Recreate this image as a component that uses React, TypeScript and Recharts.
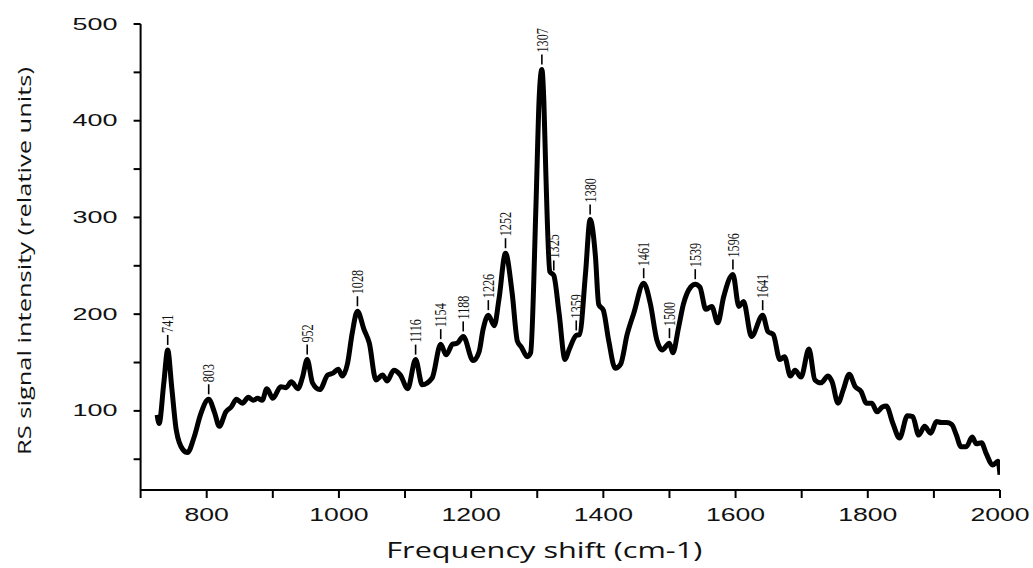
import React from "react";
import { ComposedChart, Line, XAxis, YAxis, Label } from "recharts";

const wavenumber = [
  725, 728, 735, 741, 747, 754, 764, 771, 781, 791, 803, 812, 819, 829, 837, 845, 854, 863, 870, 877,
  884, 891, 900, 912, 920, 928, 938, 945, 952, 960, 971, 983, 991, 999, 1005, 1013, 1020, 1028, 1038, 1046,
  1056, 1066, 1073, 1083, 1093, 1104, 1116, 1126, 1141, 1154, 1162, 1172, 1179, 1188, 1203, 1212, 1218, 1226, 1235, 1242,
  1252, 1262, 1270, 1276, 1285, 1290, 1298, 1303, 1307, 1310, 1313, 1319, 1325, 1333, 1342, 1348, 1359, 1364, 1373, 1380,
  1388, 1393, 1400, 1408, 1418, 1426, 1436, 1446, 1461, 1471, 1481, 1489, 1500, 1505, 1514, 1521, 1532, 1539, 1546, 1555,
  1564, 1573, 1582, 1596, 1605, 1612, 1624, 1641, 1649, 1657, 1667, 1674, 1683, 1690, 1699, 1711, 1720, 1729, 1740, 1746,
  1755, 1763, 1772, 1781, 1790, 1798, 1806, 1814, 1822, 1828, 1838, 1848, 1860, 1868, 1877, 1886, 1895, 1904, 1911, 1919,
  1927, 1934, 1941, 1949, 1958, 1964, 1972, 1979, 1989, 1997, 2000,
];

const intensity = [
  96, 87, 128, 163, 125, 80, 60, 57, 73, 97, 112, 98, 84, 99, 104, 112, 108, 114, 111, 113,
  111, 123, 113, 125, 124, 130, 123, 135, 153, 129, 122, 137, 139, 143, 136, 149, 180, 203, 184, 170,
  132, 137, 131, 142, 137, 123, 153, 127, 134, 169, 158, 169, 170, 177, 152, 161, 184, 199, 188, 215,
  263, 222, 172, 166, 156, 160, 311, 425, 453, 420, 346, 244, 240, 201, 153, 163, 178, 179, 242, 298,
  260, 210, 204, 173, 144, 148, 179, 201, 232, 211, 173, 163, 170, 160, 187, 210, 228, 231, 228, 205,
  208, 191, 218, 241, 208, 213, 177, 199, 182, 179, 153, 156, 136, 142, 135, 164, 132, 129, 136, 130,
  108, 122, 138, 125, 120, 108, 108, 99, 104, 105, 87, 72, 95, 94, 75, 84, 77, 89, 88, 88,
  86, 75, 63, 63, 73, 66, 67, 56, 44, 48, 34,
];

const peakLabels = [741, 803, 952, 1028, 1116, 1154, 1188, 1226, 1252, 1307, 1325, 1359, 1380, 1461, 1500, 1539, 1596, 1641];

const xTicks = [700, 800, 900, 1000, 1100, 1200, 1300, 1400, 1500, 1600, 1700, 1800, 1900, 2000];
const xLabelTicks = [800, 1000, 1200, 1400, 1600, 1800, 2000];
const yTicks = [50, 100, 150, 200, 250, 300, 350, 400, 450, 500];
const yLabelTicks = [100, 200, 300, 400, 500];

const xTitle = "Frequency shift (cm-1)";
const yTitle = "RS signal intensity (relative units)";

const data = wavenumber.map((w, i) => ({ w, v: intensity[i] }));

const XTick = (props: any) => {
  const { x, y, payload } = props;
  if (!xLabelTicks.includes(payload.value)) return null;
  const s = String(payload.value);
  return (
    <text
      x={x}
      y={y + 21}
      textAnchor="middle"
      fontFamily="'Liberation Sans', Arial, sans-serif"
      fontSize={19}
      fontWeight={400}
      fill="#111"
      textLength={s.length * 14.8}
      lengthAdjust="spacingAndGlyphs"
    >
      {s}
    </text>
  );
};

const YTick = (props: any) => {
  const { x, y, payload } = props;
  if (!yLabelTicks.includes(payload.value)) return null;
  const s = String(payload.value);
  return (
    <text
      x={x}
      y={y + 5.5}
      textAnchor="end"
      fontFamily="'Liberation Sans', Arial, sans-serif"
      fontSize={17}
      fontWeight={400}
      fill="#111"
      textLength={s.length * 15}
      lengthAdjust="spacingAndGlyphs"
    >
      {s}
    </text>
  );
};

const PeakLabel = (props: any) => {
  const { x, y, index } = props;
  const w = wavenumber[index];
  if (!peakLabels.includes(w)) return null;
  return (
    <g>
      <line x1={x} y1={y - 5} x2={x} y2={y - 15} stroke="#000" strokeWidth={1.6} />
      <g transform={`translate(${x}, ${y - 17}) rotate(-90)`}>
        <text
          x={0}
          y={0}
          transform="scale(0.76,1)"
          dominantBaseline="central"
          fontFamily="'Liberation Serif', 'Times New Roman', serif"
          fontSize={16}
          fontWeight={400}
          fill="#111"
        >
          {w}
        </text>
      </g>
    </g>
  );
};

export default function App() {
  return (
    <div style={{ position: "absolute", left: 0, top: 0, width: 1033, height: 568, background: "#fff" }}>
      <ComposedChart
        width={1033}
        height={568}
        data={data}
        margin={{ top: 24, right: 33, bottom: 0, left: 0 }}
      >
        <XAxis
          dataKey="w"
          type="number"
          domain={[700, 2000]}
          ticks={xTicks}
          interval={0}
          allowDataOverflow
          height={78}
          tickSize={8}
          tickMargin={2}
          axisLine={{ stroke: "#000", strokeWidth: 2 }}
          tickLine={{ stroke: "#000", strokeWidth: 2 }}
          tick={<XTick />}
        >
          <Label
            content={(p: any) => {
              const vb = p.viewBox;
              return (
                <text
                  x={vb.x + vb.width / 2 - 26}
                  y={vb.y + 68}
                  textAnchor="middle"
                  fontFamily="'Open Sans', 'Noto Sans', sans-serif"
                  fontSize={21}
                  fontWeight={400}
                  fill="#111"
                  textLength={316}
                  lengthAdjust="spacingAndGlyphs"
                >
                  {xTitle}
                </text>
              );
            }}
          />
        </XAxis>
        <YAxis
          type="number"
          domain={[18.2, 500]}
          ticks={yTicks}
          interval={0}
          allowDataOverflow
          width={140.6}
          tickSize={7}
          tickMargin={16}
          axisLine={{ stroke: "#000", strokeWidth: 2 }}
          tickLine={{ stroke: "#000", strokeWidth: 2 }}
          tick={<YTick />}
        >
          <Label
            content={(p: any) => {
              const vb = p.viewBox;
              const cx = vb.x + 24;
              const cy = vb.y + vb.height / 2 + 4;
              return (
                <text
                  x={cx}
                  y={cy}
                  transform={`rotate(-90, ${cx}, ${cy})`}
                  textAnchor="middle"
                  dominantBaseline="central"
                  fontFamily="'Open Sans', 'Noto Sans', sans-serif"
                  fontSize={19}
                  fontWeight={400}
                  fill="#111"
                  textLength={388}
                  lengthAdjust="spacingAndGlyphs"
                >
                  {yTitle}
                </text>
              );
            }}
          />
        </YAxis>
        <Line
          dataKey="v"
          type="monotone"
          stroke="#000"
          strokeWidth={5}
          dot={false}
          activeDot={false}
          isAnimationActive={false}
          label={<PeakLabel />}
        />
      </ComposedChart>
    </div>
  );
}
